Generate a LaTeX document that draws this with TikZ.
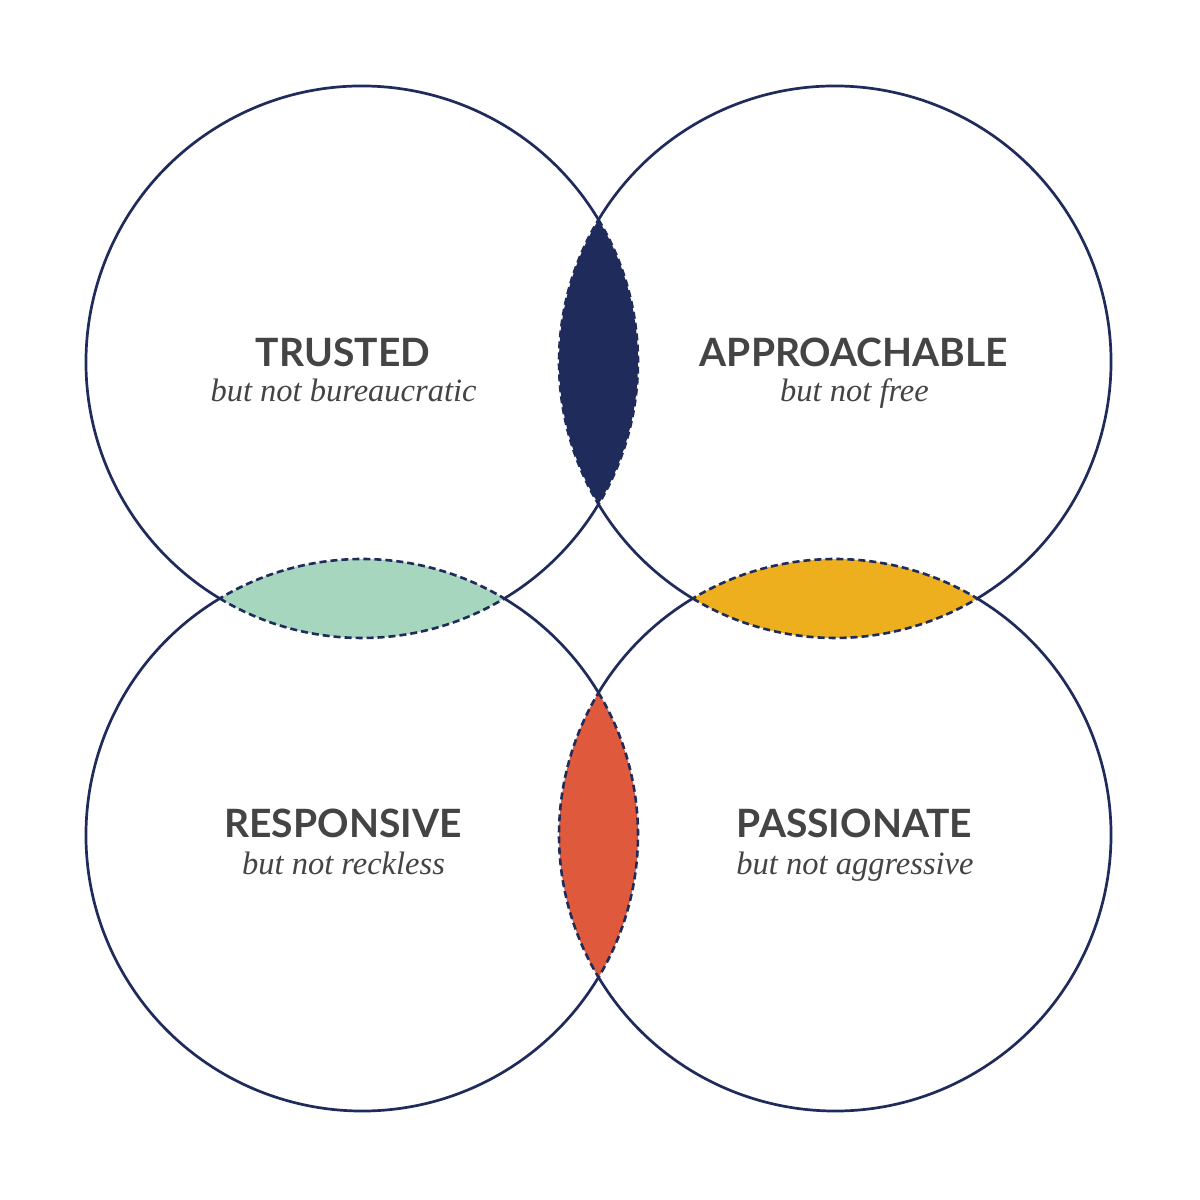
\documentclass[tikz,border=0pt]{standalone}
\usepackage{fontspec}
\setmainfont{Liberation Serif}
\newfontfamily\labfont{Lato}
\definecolor{navy}{HTML}{1F2B5B}
\definecolor{mint}{HTML}{A7D6BF}
\definecolor{gold}{HTML}{EEAF1E}
\definecolor{redor}{HTML}{DF5A3D}
\definecolor{txt}{HTML}{444444}
\tikzset{
  solidarc/.style={draw=navy, line width=2.7pt},
  lens/.style={draw=navy, line width=2.6pt, dash pattern=on 7pt off 4pt},
  title/.style={inner sep=0pt, anchor=base, text=txt, font=\labfont\bfseries\fontsize{39}{44}\selectfont},
  sub/.style={inner sep=0pt, anchor=base, text=txt, font=\itshape\fontsize{32.5}{36}\selectfont},
}
\begin{document}
\begin{tikzpicture}[x=1pt,y=1pt]
\useasboundingbox (0,0) rectangle (1200,1200);
\fill[white] (0,0) rectangle (1200,1200);
\def\R{276}
\def\A{31.03}
\coordinate (tl) at (362,838);
\coordinate (tr) at (835,838);
\coordinate (bl) at (362,365);
\coordinate (br) at (835,365);
% lenses
\path[fill=navy, lens] (tl) ++(\A:\R) arc[start angle=\A, end angle=-\A, radius=\R]
  arc[start angle=180+\A, end angle=180-\A, radius=\R] -- cycle;
\path[fill=redor, lens] (bl) ++(\A:\R) arc[start angle=\A, end angle=-\A, radius=\R]
  arc[start angle=180+\A, end angle=180-\A, radius=\R] -- cycle;
\path[fill=mint, lens] (tl) ++(-90-\A:\R) arc[start angle=-90-\A, end angle=-90+\A, radius=\R]
  arc[start angle=90-\A, end angle=90+\A, radius=\R] -- cycle;
\path[fill=gold, lens] (tr) ++(-90-\A:\R) arc[start angle=-90-\A, end angle=-90+\A, radius=\R]
  arc[start angle=90-\A, end angle=90+\A, radius=\R] -- cycle;
% solid arcs
\draw[solidarc] (tl) ++(\A:\R) arc[start angle=\A, end angle=270-\A, radius=\R];
\draw[solidarc] (tl) ++(-90+\A:\R) arc[start angle=-90+\A, end angle=-\A, radius=\R];
\draw[solidarc] (tr) ++(-90+\A:\R) arc[start angle=-90+\A, end angle=180-\A, radius=\R];
\draw[solidarc] (tr) ++(180+\A:\R) arc[start angle=180+\A, end angle=270-\A, radius=\R];
\draw[solidarc] (bl) ++(90+\A:\R) arc[start angle=90+\A, end angle=360-\A, radius=\R];
\draw[solidarc] (bl) ++(\A:\R) arc[start angle=\A, end angle=90-\A, radius=\R];
\draw[solidarc] (br) ++(180+\A:\R) arc[start angle=180+\A, end angle=450-\A, radius=\R];
\draw[solidarc] (br) ++(90+\A:\R) arc[start angle=90+\A, end angle=180-\A, radius=\R];
% labels
\node[title] (t1) at (343,833) {TRUSTED};
\node[sub] (s1) at (343.5,798) {but not bureaucratic};
\node[title] (t2) at (854,833) {APPROACHABLE};
\node[sub] (s2) at (854.5,798) {but not free};
\node[title] (t3) at (343,362) {RESPONSIVE};
\node[sub] (s3) at (343.5,325) {but not reckless};
\node[title] (t4) at (854.5,362) {PASSIONATE};
\node[sub] (s4) at (855,325) {but not aggressive};
\end{tikzpicture}
\end{document}
